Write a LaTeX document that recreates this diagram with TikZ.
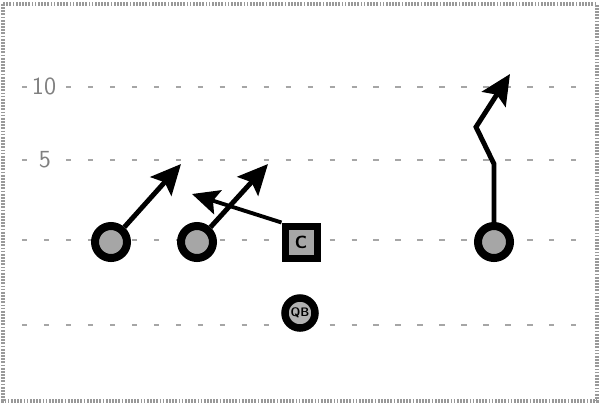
\documentclass[tikz,border=0pt]{standalone}
\usetikzlibrary{arrows.meta}
\begin{document}
\begin{tikzpicture}[x=0.2mm,y=-0.2mm,
  yardline/.style={draw=black!35, line width=0.9pt, dash pattern=on 3pt off 9.5pt},
  yardnum/.style={text=black!50, font=\sffamily\fontsize{14}{14}\selectfont, fill=white, inner sep=1.5pt},
  player/.style={circle, draw=black, fill=black!35, line width=1.6mm, minimum size=6.4mm, inner sep=0pt},
  qbplayer/.style={circle, draw=black, fill=black!30, line width=1.5mm, minimum size=6mm, inner sep=0pt, font=\sffamily\bfseries\scriptsize},
  center/.style={rectangle, draw=black, fill=black!35, line width=1.4mm, minimum size=6.4mm, inner sep=0pt, font=\sffamily\bfseries\normalsize},
  route/.style={draw=black, line width=2.8pt, line join=miter, -{Stealth[length=6mm,width=5.6mm,inset=1.1mm]}},
  blockroute/.style={draw=black, line width=2.2pt, -{Stealth[length=5.4mm,width=5mm,inset=1mm]}}
]
\useasboundingbox (0,0) rectangle (600,407);
% border
\draw[black!40, line width=1.8pt, dash pattern=on 1pt off 0.8pt] (3,4) rectangle (597,401);
% yard lines
\draw[yardline] (22,87) -- (592,87);
\draw[yardline] (22,160) -- (592,160);
\draw[yardline] (22,240) -- (592,240);
\draw[yardline] (22,325) -- (592,325);
\node[yardnum] (n10) at (44,86) {10};
\node[yardnum] (n5) at (45,160) {5};
% players
\node[player] (r1) at (111,242) {};
\node[player] (r2) at (197,242) {};
\node[player] (r4) at (494,242) {};
\node[center] (c) at (301,242) {C};
\node[qbplayer] (qb) at (300,313) {QB};
% route ends
\coordinate (t1) at (181,164);
\coordinate (t2) at (268,164);
\coordinate (tc) at (192,194);
\coordinate (k4a) at (494,164);
\coordinate (k4b) at (476,127);
\coordinate (t4) at (510,74);
% routes
\draw[route] (r1) -- (t1);
\draw[route] (r2) -- (t2);
\draw[blockroute] (c.north west) -- (tc);
\draw[route] (r4.north) -- (k4a) -- (k4b) -- (t4);
\end{tikzpicture}
\end{document}
